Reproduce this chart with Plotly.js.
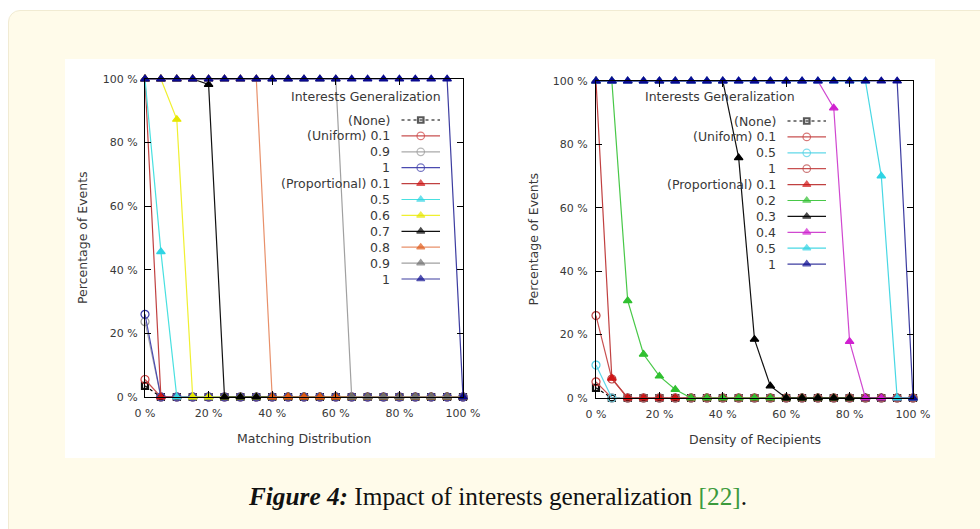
<!DOCTYPE html>
<html>
<head>
<meta charset="utf-8">
<script src="https://cdn.plot.ly/plotly-3.0.1.min.js"></script>
<style>
  html, body { margin:0; padding:0; background:#ffffff; width:980px; height:529px; overflow:hidden; }
  #card { position:absolute; left:8px; top:10px; width:990px; height:540px; background:#fffbea; border:1px solid #f1ebd3; border-radius:12px; }
  #chart { position:absolute; left:65px; top:59px; width:870px; height:399px; background:#ffffff; }
  #caption { position:absolute; left:0; top:481px; width:996px; text-align:center; font-family:"Liberation Serif", serif; font-size:25.3px; color:#111; line-height:30px; }
  #caption b { font-style:italic; }
  #caption .ref { color:#3c9a3c; }
</style>
</head>
<body>
<div id="card"></div>
<div id="chart"></div>
<div id="caption"><b>Figure 4:</b> Impact of interests generalization <span class="ref">[22]</span>.</div>
<script>
// ---------- data ----------
const xPct = [0,5,10,15,20,25,30,35,40,45,50,55,60,65,70,75,80,85,90,95,100];
const tickVals = [0,20,40,60,80,100];
const tickText = ['0 %','20 %','40 %','60 %','80 %','100 %'];

// Left chart: Matching Distribution
const leftLabels = ['(None)','(Uniform) 0.1','0.9','1','(Proportional) 0.1','0.5','0.6','0.7','0.8','0.9','1'];
const leftNone    = [3.5,0,0,0,0,0,0,0,0,0,0,0,0,0,0,0,0,0,0,0,0];
const leftUni01   = [5.5,0,0,0,0,0,0,0,0,0,0,0,0,0,0,0,0,0,0,0,0];
const leftUni09   = [23.7,0,0,0,0,0,0,0,0,0,0,0,0,0,0,0,0,0,0,0,0];
const leftUni1    = [26,0,0,0,0,0,0,0,0,0,0,0,0,0,0,0,0,0,0,0,0];
const leftProp01  = [100,0,0,0,0,0,0,0,0,0,0,0,0,0,0,0,0,0,0,0,0];
const leftProp05  = [100,45.7,0,0,0,0,0,0,0,0,0,0,0,0,0,0,0,0,0,0,0];
const leftProp06  = [100,100,87.3,0,0,0,0,0,0,0,0,0,0,0,0,0,0,0,0,0,0];
const leftProp07  = [100,100,100,100,98.3,0,0,0,0,0,0,0,0,0,0,0,0,0,0,0,0];
const leftProp08  = [100,100,100,100,100,100,100,100,0,0,0,0,0,0,0,0,0,0,0,0,0];
const leftProp09  = [100,100,100,100,100,100,100,100,100,100,100,100,100,0,0,0,0,0,0,0,0];
const leftProp1   = [100,100,100,100,100,100,100,100,100,100,100,100,100,100,100,100,100,100,100,100,0];

// Right chart: Density of Recipients
const rightLabels = ['(None)','(Uniform) 0.1','0.5','1','(Proportional) 0.1','0.2','0.3','0.4','0.5','1'];
const rightNone   = [3.2,0,0,0,0,0,0,0,0,0,0,0,0,0,0,0,0,0,0,0,0];
const rightUni01  = [5.1,0,0,0,0,0,0,0,0,0,0,0,0,0,0,0,0,0,0,0,0];
const rightUni05  = [10.4,0,0,0,0,0,0,0,0,0,0,0,0,0,0,0,0,0,0,0,0];
const rightUni1   = [26,6,0,0,0,0,0,0,0,0,0,0,0,0,0,0,0,0,0,0,0];
const rightProp01 = [100,6.2,0,0,0,0,0,0,0,0,0,0,0,0,0,0,0,0,0,0,0];
const rightProp02 = [100,100,30.7,13.8,6.9,2.7,0,0,0,0,0,0,0,0,0,0,0,0,0,0,0];
const rightProp03 = [100,100,100,100,100,100,100,100,100,75.8,18.5,3.8,0,0,0,0,0,0,0,0,0];
const rightProp04 = [100,100,100,100,100,100,100,100,100,100,100,100,100,100,100,91.5,17.8,0,0,0,0];
const rightProp05 = [100,100,100,100,100,100,100,100,100,100,100,100,100,100,100,100,100,100,70,0,0];
const rightProp1  = [100,100,100,100,100,100,100,100,100,100,100,100,100,100,100,100,100,100,100,100,0];

// ---------- styles ----------
const leftStyles = [
  {y:leftNone,   line:'#000000', mk:'#111111', sym:'square-open', dash:'dot'},
  {y:leftUni01,  line:'#c85050', mk:'#d04040', sym:'circle-open'},
  {y:leftUni09,  line:'#aaaaaa', mk:'#999999', sym:'circle-open'},
  {y:leftUni1,   line:'#4a4ab0', mk:'#3a3aa8', sym:'circle-open'},
  {y:leftProp01, line:'#c04040', mk:'#d01515', sym:'triangle-up'},
  {y:leftProp05, line:'#48e0e0', mk:'#30d4e4', sym:'triangle-up'},
  {y:leftProp06, line:'#f0f030', mk:'#e6e600', sym:'triangle-up'},
  {y:leftProp07, line:'#111111', mk:'#000000', sym:'triangle-up'},
  {y:leftProp08, line:'#e8906a', mk:'#e05a18', sym:'triangle-up'},
  {y:leftProp09, line:'#a0a0a0', mk:'#707070', sym:'triangle-up'},
  {y:leftProp1,  line:'#3c3ca0', mk:'#0a0a90', sym:'triangle-up'}
];
const rightStyles = [
  {y:rightNone,   line:'#000000', mk:'#111111', sym:'square-open', dash:'dot'},
  {y:rightUni01,  line:'#c85050', mk:'#c84040', sym:'circle-open'},
  {y:rightUni05,  line:'#60d8e8', mk:'#50d0e4', sym:'circle-open'},
  {y:rightUni1,   line:'#c85050', mk:'#b84040', sym:'circle-open'},
  {y:rightProp01, line:'#c04040', mk:'#d01515', sym:'triangle-up'},
  {y:rightProp02, line:'#48c848', mk:'#30c030', sym:'triangle-up'},
  {y:rightProp03, line:'#111111', mk:'#000000', sym:'triangle-up'},
  {y:rightProp04, line:'#d048d0', mk:'#d020d0', sym:'triangle-up'},
  {y:rightProp05, line:'#48d8e4', mk:'#30d4e4', sym:'triangle-up'},
  {y:rightProp1,  line:'#3c3ca0', mk:'#0a0a90', sym:'triangle-up'}
];

function mkSize(s){ return s.sym === 'circle-open' ? 8 : (s.sym === 'square-open' ? 6 : 7.5); }
function mkLine(s){ return s.sym === 'square-open' ? 2.2 : 1.2; }

const traces = [];
function addSeries(styles, xa, ya){
  styles.forEach(s => {
    traces.push({
      type:'scatter', mode:'lines+markers', x:xPct, y:s.y, xaxis:xa, yaxis:ya,
      cliponaxis:false, showlegend:false, hoverinfo:'skip',
      line:{color:s.line, width:1.2, dash:s.dash || 'solid'},
      marker:{symbol:s.sym, size:mkSize(s), color:s.mk, line:{color:s.mk, width:mkLine(s)}}
    });
  });
}
addSeries(leftStyles, 'x', 'y');
addSeries(rightStyles, 'x2', 'y2');

// ---------- hand-drawn legends (gnuplot style: text then sample) ----------
const annotations = [];
const txtFont = {family:'DejaVu Sans', size:12.5, color:'#383838'};
function addLegend(labels, styles, opt){
  annotations.push({xref:'x3', yref:'y3', x:opt.titleX, y:opt.titleY, text:'Interests Generalization',
    showarrow:false, xanchor:'center', yanchor:'middle', font:txtFont});
  labels.forEach((lab, i) => {
    const yy = opt.row0 + i*opt.step;
    const s = styles[i];
    annotations.push({xref:'x3', yref:'y3', x:opt.textRight, y:yy, text:lab, showarrow:false,
      xanchor:'right', yanchor:'middle', font:txtFont});
    traces.push({type:'scatter', mode:'lines+markers', xaxis:'x3', yaxis:'y3', cliponaxis:false,
      x:[opt.s1, (opt.s1+opt.s2)/2, opt.s2], y:[yy,yy,yy], showlegend:false, hoverinfo:'skip',
      line:{color:s.line, width:1.2, dash:s.dash || 'solid'},
      marker:{symbol:s.sym, size:[0, mkSize(s)-0.5, 0], color:s.mk, line:{color:s.mk, width:mkLine(s)}}});
  });
}
addLegend(leftLabels, leftStyles, {titleX:301, titleY:37.5, textRight:327, row0:61, step:15.9, s1:336.5, s2:375});
addLegend(rightLabels, rightStyles, {titleX:655, titleY:37.5, textRight:713, row0:62, step:15.9, s1:722.5, s2:761});

// axis titles
annotations.push({xref:'x3', yref:'y3', x:239, y:379, text:'Matching Distribution', showarrow:false, xanchor:'center', yanchor:'middle', font:txtFont});
annotations.push({xref:'x3', yref:'y3', x:689.5, y:380, text:'Density of Recipients', showarrow:false, xanchor:'center', yanchor:'middle', font:txtFont});
annotations.push({xref:'x3', yref:'y3', x:17, y:179, text:'Percentage of Events', textangle:-90, showarrow:false, xanchor:'center', yanchor:'middle', font:txtFont});
annotations.push({xref:'x3', yref:'y3', x:468, y:180.5, text:'Percentage of Events', textangle:-90, showarrow:false, xanchor:'center', yanchor:'middle', font:txtFont});

const W = 870, H = 399;
function axisBase(){
  return {range:[0,100], tickmode:'array', tickvals:tickVals, ticktext:tickText, ticks:'inside', ticklen:6, tickwidth:1, tickcolor:'#000',
    showline:true, linecolor:'#000', linewidth:1, mirror:'ticks', showgrid:false, zeroline:false,
    tickfont:{family:'DejaVu Sans', size:11, color:'#383838'}, fixedrange:true};
}
const layout = {
  width:W, height:H, margin:{l:0, r:0, t:0, b:0},
  paper_bgcolor:'#ffffff', plot_bgcolor:'rgba(0,0,0,0)', showlegend:false,
  xaxis:  Object.assign(axisBase(), {domain:[80/W, 398/W], anchor:'y', ticklabelstandoff:6}),
  yaxis:  Object.assign(axisBase(), {domain:[(H-338)/H, (H-20)/H], anchor:'x', ticklabelstandoff:4}),
  xaxis2: Object.assign(axisBase(), {domain:[531/W, 848/W], anchor:'y2', ticklabelstandoff:6}),
  yaxis2: Object.assign(axisBase(), {domain:[(H-339)/H, (H-22)/H], anchor:'x2', ticklabelstandoff:5}),
  xaxis3: {domain:[0,1], range:[0,W], visible:false, anchor:'y3', fixedrange:true},
  yaxis3: {domain:[0,1], range:[H,0], visible:false, anchor:'x3', fixedrange:true},
  annotations: annotations
};
Plotly.newPlot('chart', traces, layout, {staticPlot:true, displayModeBar:false});
</script>
</body>
</html>
